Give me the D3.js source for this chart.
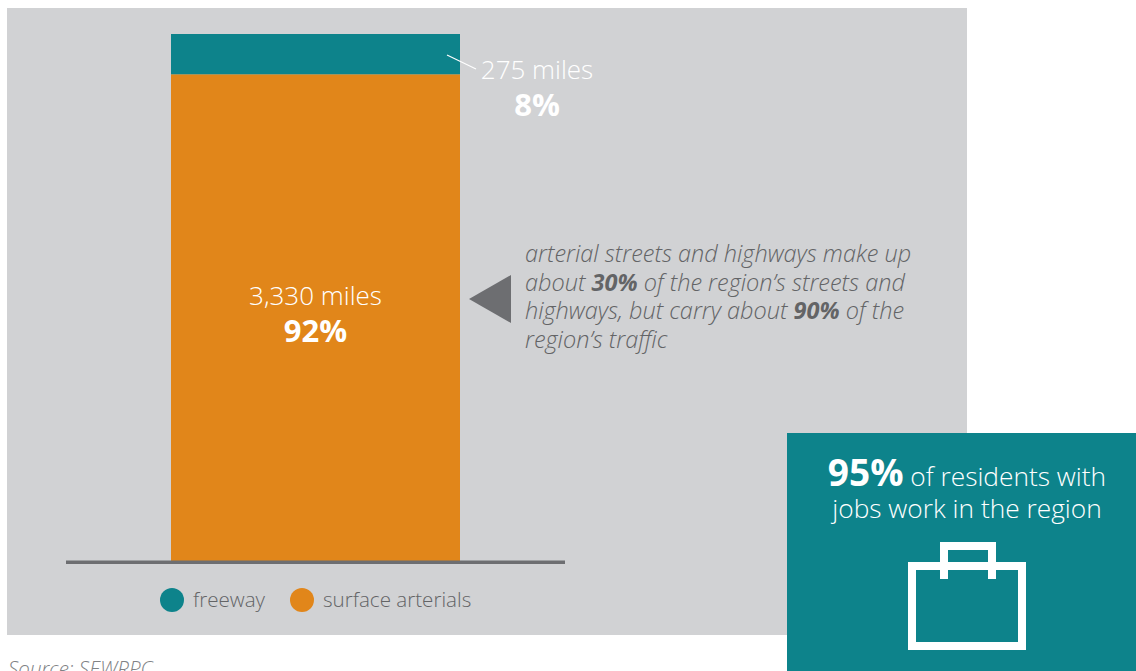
<!DOCTYPE html>
<html>
<head>
<meta charset="utf-8">
<script src="https://cdn.jsdelivr.net/npm/d3@7/dist/d3.min.js"></script>
<style>
html,body{margin:0;padding:0;background:#fff;overflow:hidden}
text{font-family:"Open Sans","Noto Sans",sans-serif;font-weight:300}
.b{font-weight:700}
</style>
</head>
<body>
<svg id="c" width="1136" height="671"></svg>
<script>
// Regional arterial mileage by facility type
const categories = ["surface arterials", "freeway"];
const miles = [3330, 275];
const shares = ["92%", "8%"];
const colors = ["#e1861a", "#0d838b"];
const legendOrder = ["freeway", "surface arterials"];
const note = [
  [["arterial streets and highways make up", 0]],
  [["about ", 0], ["30%", 1], [" of the region\u2019s streets and", 0]],
  [["highways, but carry about ", 0], ["90%", 1], [" of the", 0]],
  [["region\u2019s traffic", 0]]
];
const calloutLines = [
  [["95%", 1], [" of residents with", 0]],
  [["jobs work in the region", 0]]
];
const source = "Source: SEWRPC";

const svg = d3.select("#c");
const GREY = "#d1d2d4", TEAL = "#0d838b", DARK = "#6d6e71";

svg.append("rect").attr("x", 7).attr("y", 8).attr("width", 960).attr("height", 627).attr("fill", GREY);

const total = d3.sum(miles);
const y = d3.scaleLinear().domain([0, total]).range([562, 34]);
const x = d3.scaleBand().domain(["arterials"]).range([171, 460]);

// stacked column
const stackData = d3.stack().keys(categories)([Object.fromEntries(categories.map((c, i) => [c, miles[i]]))]);
svg.append("g").selectAll("rect").data(stackData).join("rect")
  .attr("x", x("arterials")).attr("width", x.bandwidth())
  .attr("y", d => y(d[0][1])).attr("height", d => y(d[0][0]) - y(d[0][1]))
  .attr("fill", (d, i) => colors[i]);

// baseline
svg.append("rect").attr("x", 66).attr("y", 560.5).attr("width", 499).attr("height", 3.5).attr("fill", DARK);

// value labels
function valueLabel(cx, y0, y1, a, b) {
  svg.append("text").attr("x", cx).attr("y", y0).attr("text-anchor", "middle").attr("fill", "#fff")
    .style("font-size", "26px").text(a);
  svg.append("text").attr("x", cx).attr("y", y1).attr("text-anchor", "middle").attr("fill", "#fff")
    .attr("class", "b").style("font-size", "31px").text(b);
}
valueLabel(315.5, 305, 342, miles[0].toLocaleString("en-US") + " miles", shares[0]);
valueLabel(537, 79, 116, miles[1] + " miles", shares[1]);

// leader line to the freeway segment
svg.append("line").attr("x1", 447).attr("y1", 55).attr("x2", 476).attr("y2", 69)
  .attr("stroke", "#fff").attr("stroke-width", 1.2);

// pointer and note
svg.append("path").attr("d", d3.line()([[469, 299], [511, 275], [511, 323]])).attr("fill", DARK);
const noteText = svg.append("text").attr("fill", "#636466").style("font-size", "23.5px").style("font-style", "italic");
note.forEach((line, i) => {
  const t = noteText.append("tspan").attr("x", 525).attr("y", 262 + i * 28.5);
  line.forEach(([s, bold]) => t.append("tspan").attr("class", bold ? "b" : null).text(s));
});

// legend
const legend = svg.append("g");
legendOrder.forEach((name, i) => {
  const cx = [172, 302][i];
  legend.append("circle").attr("cx", cx).attr("cy", 600).attr("r", 12)
    .attr("fill", colors[categories.indexOf(name)]);
  legend.append("text").attr("x", cx + 21).attr("y", 607).attr("fill", "#636466")
    .style("font-size", "20.6px").text(name);
});

// source
svg.append("text").attr("x", 8).attr("y", 676).attr("fill", "#808285")
  .style("font-size", "20.6px").style("font-style", "italic").text(source);

// callout box
svg.append("rect").attr("x", 787).attr("y", 433).attr("width", 349).attr("height", 238).attr("fill", TEAL);
const callout = svg.append("text").attr("text-anchor", "middle").attr("fill", "#fff").style("font-size", "26.3px");
calloutLines.forEach((line, i) => {
  const t = callout.append("tspan").attr("x", 967).attr("y", [486, 518][i]);
  line.forEach(([s, bold]) => t.append("tspan").attr("class", bold ? "b" : null)
    .style("font-size", bold ? "37px" : null).text(s));
});

// briefcase icon
const icon = svg.append("g").attr("fill", "none").attr("stroke", "#fff").attr("stroke-width", 8);
icon.append("rect").attr("x", 912).attr("y", 566).attr("width", 110).attr("height", 80);
icon.append("path").attr("d", "M944 579V546H992V579");
</script>
</body>
</html>
